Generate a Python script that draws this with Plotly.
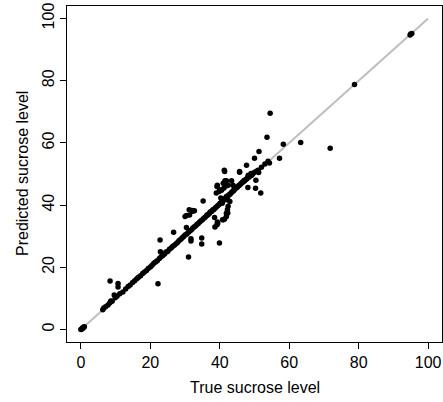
import plotly.graph_objects as go

true_level = [
    0.0, 0.2, 0.4, 0.6, 0.8, 1.0,
    6.3, 6.6, 7.1, 7.8, 8.3, 8.6, 9.0, 9.6, 9.9, 10.4, 10.7, 10.7, 8.4, 11.2,
    12.1, 12.9, 13.6, 14.2, 14.9, 15.5, 16.1, 16.6, 17.2, 17.8, 18.3, 18.9,
    19.4, 20.0, 20.5, 21.0, 21.5, 22.0, 22.2, 22.6, 22.8, 22.9, 23.1, 23.6,
    24.1, 24.5, 25.0, 25.5, 26.0, 26.4, 26.7, 26.9, 27.4, 27.9, 28.3, 28.8,
    29.2, 29.6, 30.0, 30.0, 30.4, 30.5, 30.9, 31.0, 31.3, 31.3, 31.7, 31.7,
    31.8, 32.0, 32.2, 32.6, 32.7, 33.0, 33.4, 33.8, 34.2, 34.6, 34.8, 34.8,
    35.0, 35.2, 35.4, 35.8, 36.2, 36.6, 37.0, 37.3, 37.7, 38.0, 38.3, 38.5,
    38.7, 39.0, 39.0, 39.3, 39.4, 39.3, 39.4, 39.8, 39.8, 39.9, 40.1, 40.3,
    40.5, 40.7, 40.8, 40.9, 41.0, 41.0, 41.3, 41.4, 41.4, 41.5, 41.7, 41.9,
    41.9, 41.9, 42.0, 42.2, 42.2, 42.4, 42.4, 42.7, 42.9, 43.0, 43.3, 43.4,
    43.6, 43.9, 44.2, 44.5, 44.8, 45.1, 45.4, 45.7, 45.7, 46.0, 46.3, 46.6,
    46.9, 47.2, 47.5, 47.7, 47.8, 48.1, 48.2, 48.5, 48.8, 49.0, 49.2, 49.5,
    50.0, 50.3, 50.4, 50.4, 51.2, 51.0, 51.3, 51.8, 52.0, 53.0, 53.6, 53.9,
    54.3, 54.5, 57.2, 58.3, 63.3, 71.8, 78.8, 94.8, 95.0, 95.3,
    40.5, 41.2, 42.0, 31.2, 32.2, 41.0, 42.4, 43.8, 41.4, 45.7, 48.1, 39.2,
    40.0, 30.4, 38.6, 39.2, 41.9, 42.3, 36.4, 37.2, 44.0, 45.0, 47.0, 49.8,
]
predicted_level = [
    0.0, 0.1, 0.5, 0.4, 0.8, 0.9,
    6.4, 6.9, 7.3, 7.9, 8.5, 9.2, 9.1, 11.1, 10.2, 10.7, 14.8, 13.7, 15.6, 11.5,
    12.1, 13.0, 13.8, 14.3, 15.1, 15.7, 16.3, 16.8, 17.3, 18.0, 18.5, 19.0,
    19.6, 20.1, 20.7, 21.3, 21.7, 22.1, 14.7, 22.8, 28.8, 25.0, 23.4, 23.8,
    24.3, 24.9, 25.1, 25.8, 26.2, 26.7, 31.3, 27.1, 27.6, 28.1, 28.6, 29.0,
    29.5, 29.9, 30.4, 36.3, 32.8, 30.7, 31.2, 23.3, 31.6, 36.8, 29.2, 28.5,
    32.0, 38.3, 32.6, 33.0, 38.2, 33.3, 33.8, 34.1, 34.6, 35.0, 29.4, 27.5,
    35.3, 41.3, 35.8, 36.1, 36.6, 36.9, 37.3, 37.8, 38.0, 38.5, 38.6, 36.0,
    39.1, 39.4, 43.9, 34.6, 34.2, 46.4, 39.8, 44.4, 40.2, 27.8, 40.6, 42.3,
    40.9, 40.6, 35.3, 41.7, 41.4, 35.3, 51.2, 35.5, 41.9, 47.8, 42.3, 42.8,
    37.4, 47.8, 42.6, 41.7, 38.5, 39.6, 43.0, 43.3, 41.2, 43.6, 44.0, 47.8,
    44.3, 44.6, 45.0, 45.3, 45.6, 45.9, 46.2, 50.6, 46.5, 46.8, 47.1, 47.4,
    47.6, 47.9, 48.2, 52.8, 48.5, 45.7, 49.6, 49.0, 49.4, 50.2, 49.6, 50.1,
    55.1, 45.4, 48.0, 50.8, 50.5, 51.2, 57.2, 43.9, 52.2, 53.2, 61.8, 54.1,
    53.5, 69.5, 55.1, 59.6, 60.1, 58.3, 78.8, 94.7, 95.0, 95.2,
    44.8, 45.5, 46.2, 38.5, 38.0, 47.0, 46.4, 46.4, 50.8, 50.8, 49.0, 46.0,
    44.9, 36.7, 33.0, 33.7, 36.3, 37.5, 36.9, 37.7, 44.7, 45.8, 47.9, 50.4,
]
line_ends = [0, 100]
tick_values = [0, 20, 40, 60, 80, 100]

font_family = "Liberation Sans, Arial, sans-serif"

fig = go.Figure()
fig.add_trace(go.Scatter(
    x=line_ends, y=line_ends, mode="lines",
    line=dict(color="#bebebe", width=2), hoverinfo="skip", showlegend=False,
))
fig.add_trace(go.Scatter(
    x=true_level, y=predicted_level, mode="markers",
    marker=dict(color="black", size=5.5, line=dict(width=0)),
    showlegend=False,
))

axis_common = dict(
    range=[-4, 104], tickvals=tick_values, ticks="outside", ticklen=6,
    tickwidth=1, tickcolor="black", showline=True, linecolor="black",
    linewidth=1, mirror=True, showgrid=False, zeroline=False,
    automargin=False,
    tickfont=dict(family=font_family, size=16, color="black"),
)

fig.update_layout(
    width=443, height=402,
    margin=dict(l=67, r=1, t=6, b=60, pad=0),
    paper_bgcolor="white", plot_bgcolor="white",
    xaxis=dict(**axis_common),
    yaxis=dict(**axis_common, tickangle=-90),
    font=dict(family=font_family, size=16, color="black"),
    annotations=[
        dict(text="True sucrose level", xref="paper", yref="paper", x=0.5, y=0,
             xanchor="center", yanchor="middle", yshift=-45, showarrow=False,
             font=dict(family=font_family, size=16, color="black")),
        dict(text="Predicted sucrose level", xref="paper", yref="paper", x=0, y=0.5,
             xanchor="center", yanchor="middle", xshift=-45, textangle=-90,
             showarrow=False,
             font=dict(family=font_family, size=16, color="black")),
    ],
)

fig.write_html(
    "out.html",
    config={"displayModeBar": False},
    post_script="document.body.style.margin='0';document.body.style.overflow='hidden';",
)
